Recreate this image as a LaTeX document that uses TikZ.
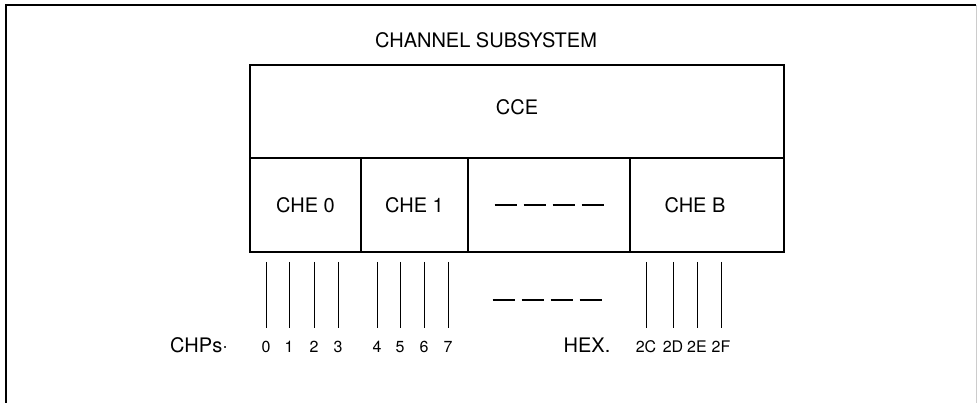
\documentclass[tikz,border=0pt]{standalone}
\usepackage{fontspec}
\setmainfont{TeX Gyre Heros}
\usetikzlibrary{positioning}
\newcommand{\dashrow}{\rule{22pt}{1.2pt}\hspace{7pt}\rule{22pt}{1.2pt}\hspace{7pt}\rule{22pt}{1.2pt}\hspace{7pt}\rule{22pt}{1.2pt}}

\begin{document}
\begin{tikzpicture}[x=1pt, y=-1pt,
    box/.style={draw, line width=1.2pt, outer sep=0pt, inner sep=0pt, minimum height=94pt, font=\fontsize{20}{24}\selectfont},
    lbl/.style={anchor=base, font=\fontsize{20}{24}\selectfont},
    chp/.style={anchor=base, font=\fontsize{16}{19}\selectfont},
    chpline/.style={line width=0.8pt, shorten >=9pt}]
    \useasboundingbox (0,0) rectangle (977,403);

    % Frame
    \draw[line width=2pt] (6,403) -- (6,5) -- (976,5);
    \draw[gray!40, line width=0.8pt] (976,5) -- (976,403);

    % Title and CCE
    \node[font=\fontsize{20}{24}\selectfont] (title) at (486,40) {CHANNEL SUBSYSTEM};
    \node[box, minimum width=534pt, minimum height=93pt] (cce) at (517,111.5) {};
    \node[font=\fontsize{20}{24}\selectfont] (ccetext) at ([yshift=4pt]cce.center) {CCE};

    % CHE row
    \node[box, minimum width=111pt, anchor=north west] (che0) at (cce.south west) {CHE 0};
    \node[box, minimum width=107pt, right=0pt of che0] (che1) {CHE 1};
    \node[box, minimum width=162pt, right=0pt of che1] (cheg) {\dashrow};
    \node[box, minimum width=154pt, right=0pt of cheg] (cheb) {};
    \node[font=\fontsize{20}{24}\selectfont] (chebtext) at ([xshift=-12pt]cheb.center) {CHE B};

    % Channel paths
    \foreach \x/\t [count=\i] in {266/0,289/1,314/2,338/3,377/4,400/5,424/6,448/7,646/2C,673/2D,697/2E,721/2F} {
        \node[chp] (p\i) at (\x,352) {\t};
        \coordinate (t\i) at (\x,262);
        \draw[chpline] (t\i) -- (p\i.north);
    }
    \node (pgap) at (547,300) {\dashrow};

    % Row labels
    \node[lbl] (chps) at (199,352) {CHPs·};
    \node[lbl] (hex) at (587,352) {HEX.};
\end{tikzpicture}
\end{document}
